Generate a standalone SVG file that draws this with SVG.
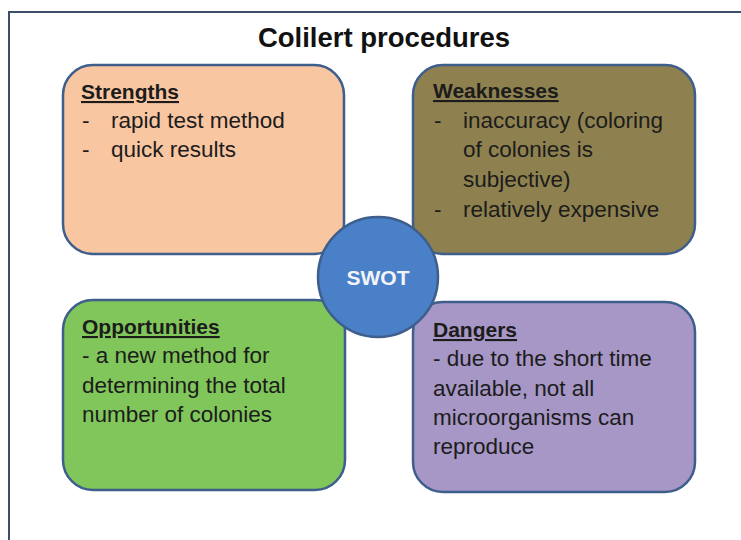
<svg xmlns="http://www.w3.org/2000/svg" width="741" height="540" viewBox="0 0 741 540">
<style>
.box{stroke:#3e5e8c;stroke-width:2.5}
.t{font-family:"Liberation Sans",Arial,sans-serif;font-size:22.5px;fill:#1c1c1c}
.h{font-size:21px;font-weight:bold;text-decoration:underline}
</style>
<rect x="0" y="0" width="741" height="540" fill="#ffffff"/>
<rect x="9" y="12" width="800" height="600" fill="#ffffff" stroke="#3b4f6b" stroke-width="2"/>
<text x="384" y="47" text-anchor="middle" style="font-family:'Liberation Sans',Arial,sans-serif;font-size:27.5px;font-weight:bold;fill:#111">Colilert procedures</text>
<g id="strengths">
<rect class="box" x="63" y="65" width="281" height="189" rx="30" fill="#f9c6a2"/>
<text class="t h" x="81" y="99">Strengths</text>
<text class="t" x="82" y="128">-</text><text class="t" x="111" y="128">rapid test method</text>
<text class="t" x="82" y="157">-</text><text class="t" x="111" y="157">quick results</text>
</g>
<g id="weaknesses">
<rect class="box" x="413" y="65" width="282" height="189" rx="30" fill="#8e814f"/>
<text class="t h" x="433" y="98">Weaknesses</text>
<text class="t" x="434" y="128">-</text><text class="t" x="463" y="128">inaccuracy (coloring</text>
<text class="t" x="463" y="157">of colonies is</text>
<text class="t" x="463" y="187">subjective)</text>
<text class="t" x="434" y="217">-</text><text class="t" x="463" y="217">relatively expensive</text>
</g>
<g id="opportunities">
<rect class="box" x="63" y="300" width="282" height="190" rx="30" fill="#80c65a"/>
<text class="t h" x="82" y="334">Opportunities</text>
<text class="t" x="82" y="363">- a new method for</text>
<text class="t" x="82" y="393">determining the total</text>
<text class="t" x="82" y="422">number of colonies</text>
</g>
<g id="dangers">
<rect class="box" x="413" y="302" width="282" height="190" rx="30" fill="#a797c6"/>
<text class="t h" x="433" y="337">Dangers</text>
<text class="t" x="433" y="366">- due to the short time</text>
<text class="t" x="433" y="396">available, not all</text>
<text class="t" x="433" y="425">microorganisms can</text>
<text class="t" x="433" y="454">reproduce</text>
</g>
<g id="connectors"></g>
<g id="swot">
<circle class="box" cx="378" cy="277" r="60" fill="#4a80c8"/>
<text x="378" y="285" text-anchor="middle" style="font-family:'Liberation Sans',Arial,sans-serif;font-size:21px;font-weight:bold;fill:#f2f4f8">SWOT</text>
</g>
</svg>
